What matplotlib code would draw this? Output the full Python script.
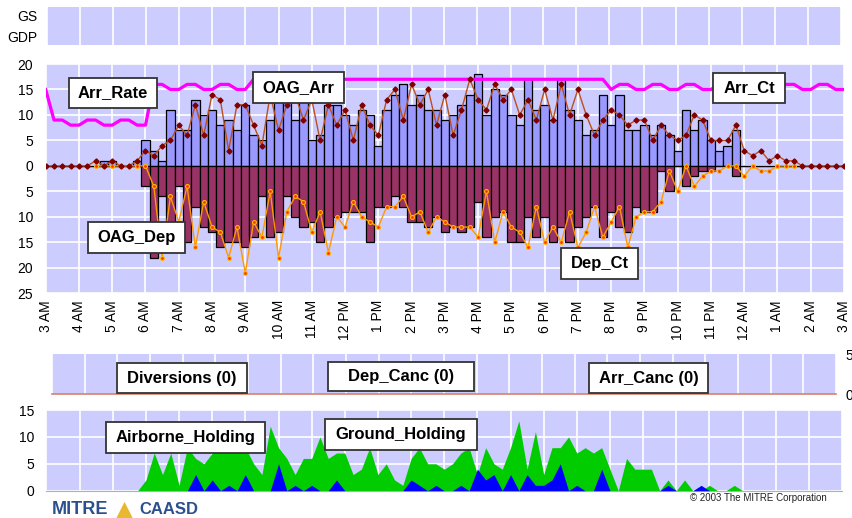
import matplotlib
matplotlib.use('Agg')
import matplotlib.pyplot as plt
import numpy as np
from matplotlib.patches import Rectangle

W, H = 853, 518
FONT = ['Liberation Sans', 'DejaVu Sans']
plt.rcParams['font.family'] = FONT

# ---------------- data (15-minute bins starting 3 AM) ----------------
hour_labels = ['3 AM', '4 AM', '5 AM', '6 AM', '7 AM', '8 AM', '9 AM', '10 AM', '11 AM',
               '12 PM', '1 PM', '2 PM', '3 PM', '4 PM', '5 PM', '6 PM', '7 PM', '8 PM',
               '9 PM', '10 PM', '11 PM', '12 AM', '1 AM', '2 AM', '3 AM']

arr_bars = [0, 0, 0, 0, 0, 0, 0,
            1, 1, 0, 0, 1, 5, 3,
            1, 11, 7, 7, 13, 10, 11,
            8, 9, 7, 12, 6, 5, 9,
            13, 14, 9, 14, 5, 6, 12,
            12, 10, 8, 11, 10, 4, 11,
            14, 16, 12, 14, 11, 11, 9,
            10, 12, 14, 18, 10, 15, 14,
            10, 8, 17, 11, 12, 9, 17,
            11, 9, 6, 7, 14, 8, 14,
            7, 7, 8, 6, 8, 6, 3,
            11, 7, 9, 5, 3, 4, 7,
            0, 0, 0, 0, 0, 0, 0,
            0, 0, 0, 0, 0, 0]

arr_sched = [0, 0, 0, 0, 0, 0, 1,
             0, 1, 0, 0, 1, 3, 2,
             4, 5, 8, 6, 12, 6, 14,
             13, 3, 12, 12, 8, 4, 14,
             7, 12, 14, 9, 13, 5, 12,
             8, 11, 5, 12, 8, 6, 13,
             15, 9, 16, 12, 15, 8, 14,
             6, 11, 17, 13, 11, 16, 13,
             15, 10, 13, 9, 15, 9, 16,
             10, 15, 10, 6, 9, 11, 10,
             8, 9, 9, 5, 8, 6, 5,
             6, 10, 9, 5, 5, 5, 8,
             3, 2, 3, 1, 2, 1, 1,
             0, 0, 0, 0, 0, 0]

dep_bars = [0, 0, 0, 0, 0, 0, 0,
            0, 0, 0, 0, 0, 4, 18,
            6, 11, 4, 15, 8, 12, 13,
            16, 15, 15, 16, 14, 6, 14,
            13, 6, 10, 12, 11, 15, 12,
            10, 9, 9, 9, 15, 8, 8,
            6, 8, 11, 11, 12, 10, 13,
            12, 13, 12, 7, 14, 10, 9,
            15, 15, 10, 14, 10, 15, 12,
            15, 12, 10, 8, 14, 9, 12,
            13, 8, 9, 9, 1, 5, 0,
            4, 2, 1, 1, 0, 0, 2,
            0, 0, 0, 0, 0, 0, 0,
            0, 0, 0, 0, 0, 0]

dep_sched = [None, None, None, None, None, None, 0,
             0, 0, 0, 0, 0, 0, 4,
             18, 6, 11, 4, 16, 7, 12,
             13, 18, 12, 21, 11, 14, 5,
             18, 9, 6, 7, 13, 9, 17,
             10, 12, 7, 10, 11, 12, 8,
             8, 6, 10, 9, 13, 10, 11,
             12, 12, 12, 14, 5, 15, 9,
             12, 13, 16, 8, 15, 12, 15,
             9, 16, 13, 8, 14, 11, 8,
             16, 10, 9, 9, 7, 1, 5,
             0, 4, 2, 1, 1, 0, 0,
             2, 0, 1, 1, 0, 0, 0,
             None, None, None, None, None, None]

arr_rate = [15, 9, 9, 8, 8, 9, 9, 8, 8, 9, 9, 8, 8,
            16, 16, 15, 15, 16, 16, 15, 15, 16, 16, 15, 15,
            17, 17, 17, 17, 17, 17, 17, 17, 17, 17, 17, 17, 17, 17, 17,
            17, 17, 17, 17, 17, 17, 17, 17, 17, 17, 17, 17, 17, 17, 17,
            17, 17, 17, 17, 17, 17, 17, 17, 17, 17, 17, 17, 17,
            15, 16, 16, 15, 15, 16, 16, 15, 15, 16, 16, 15, 15, 16, 16,
            15, 15, 16, 16, 15, 15, 16, 16, 15, 15, 16, 16, 15, 15]

ground_hold = [0, 0, 0, 0, 0, 0, 0, 0, 0, 0, 0,
               0, 2, 7, 3, 7, 1, 8,
               6, 5, 7, 8, 8, 8, 8,
               5, 3, 12, 8, 6, 3, 6,
               6, 10, 6, 7, 7, 3, 4,
               8, 3, 5, 2, 1, 6, 8,
               5, 5, 4, 5, 7, 8, 3,
               8, 5, 4, 8, 13, 4, 11,
               3, 8, 8, 10, 7, 8, 7,
               8, 4, 0, 6, 4, 4, 4,
               0, 2, 0, 2, 0, 0, 1,
               0, 0, 1, 0, 0, 0, 0,
               0, 0, 0, 0, 0, 0, 0, 0, 0]

air_hold = [0, 0, 0, 0, 0, 0, 0, 0, 0, 0, 0, 0, 0, 0, 0, 0, 0,
            0, 3, 0, 2, 0, 1, 0,
            3, 0, 0, 0, 5, 0, 1,
            0, 1, 0, 0, 2, 0, 0,
            0, 0, 0, 0, 0, 0, 2,
            1, 0, 1, 0, 0, 1, 0,
            4, 2, 3, 0, 3, 0, 3,
            1, 1, 2, 5, 0, 1, 0,
            0, 4, 0, 0, 0, 0, 0,
            0, 0, 1, 0, 0, 0, 1,
            0, 0, 0, 0, 0, 0, 0, 0, 0, 0, 0, 0, 0, 0, 0, 0, 0]

main_yticks = [20, 15, 10, 5, 0, -5, -10, -15, -20, -25]
main_ylabels = ['20', '15', '10', '5', '0', '5', '10', '15', '20', '25']
hold_yticks = [0, 5, 10, 15]

t = np.arange(len(arr_bars)) * 0.25   # hours after 3 AM
dep_sched_arr = np.array([np.nan if v is None else v for v in dep_sched], dtype=float)

BG = '#ccccff'

fig = plt.figure(figsize=(W / 100, H / 100), dpi=100)


def add_ax(l, t_, r, b):
    return fig.add_axes([l / W, 1 - b / H, (r - l) / W, (b - t_) / H])


def style_grid(ax, horizontal=True):
    ax.set_facecolor(BG)
    for s in ax.spines.values():
        s.set_visible(False)
    ax.set_axisbelow(True)
    ax.set_xticks(range(0, 25))
    ax.grid(axis='x', color='white', lw=1.2)
    if horizontal:
        ax.grid(axis='y', color='white', lw=1.2)
    ax.tick_params(length=0)


# ---------------- GS / GDP panel ----------------
ax_gs = add_ax(47, 7, 841, 45)
style_grid(ax_gs, horizontal=False)
ax_gs.set_xlim(0, 24)
ax_gs.set_ylim(0, 2)
ax_gs.set_xticklabels([])
ax_gs.set_yticks([1.55, 0.45])
ax_gs.set_yticklabels(['GS', 'GDP'], fontsize=10)
ax_gs.tick_params(axis='y', pad=7)

# ---------------- main panel ----------------
ax = add_ax(45.7, 64, 844, 293.3)
style_grid(ax)
ax.set_xlim(0, 24)
ax.set_ylim(-25, 20)
ax.set_yticks(main_yticks)
ax.set_yticklabels(main_ylabels, fontsize=10)
ax.set_xticklabels(hour_labels, rotation=90, fontsize=10, va='top')
ax.tick_params(axis='y', pad=9)
ax.tick_params(axis='x', pad=5)

ax.bar(t, arr_bars, width=0.25, color='#9999ff', edgecolor='black', lw=0.9, zorder=2)
ax.bar(t, -np.array(dep_bars), width=0.25, color='#993366', edgecolor='black', lw=0.9, zorder=2)
ax.plot(t, arr_rate, color='#ff00ff', lw=2.3, zorder=3, solid_joinstyle='round')
ax.plot(t, -dep_sched_arr, color='#ff9900', lw=1.0, marker='o', ms=2.8,
        mfc='#ff3300', mec='#ffbb00', mew=0.8, zorder=4)
ax.plot(t, arr_sched, color='#b9501e', lw=1.0, marker='D', ms=2.6,
        mfc='#800000', mec='#800000', zorder=5)

# ---------------- middle panel (diversions / cancellations) ----------------
ax_m = add_ax(52, 354, 836, 394)
style_grid(ax_m, horizontal=False)
ax_m.set_xlim(0, 24)
ax_m.set_ylim(0, 5)
ax_m.set_xticklabels([])
ax_m.spines['bottom'].set_visible(True)
ax_m.spines['bottom'].set_color('#d9826a')
ax_m.spines['bottom'].set_linewidth(1.2)
ax_m.yaxis.tick_right()
ax_m.set_yticks([0, 5])
ax_m.set_yticklabels(['0', '5'], fontsize=10)
ax_m.tick_params(axis='y', pad=7)

# ---------------- holding panel ----------------
ax_h = add_ax(46.5, 410, 842, 490.7)
style_grid(ax_h)
ax_h.set_xlim(0, 24)
ax_h.set_ylim(0, 15)
ax_h.set_yticks(hold_yticks)
ax_h.set_yticklabels([str(v) for v in hold_yticks], fontsize=10)
ax_h.set_xticklabels([])
ax_h.tick_params(axis='y', pad=9)
ax_h.fill_between(t, 0, ground_hold, color='#00cc00', lw=0, zorder=2)
ax_h.fill_between(t, 0, air_hold, color='#0000ff', lw=0, zorder=3)
ax_h.spines['bottom'].set_visible(True)
ax_h.spines['bottom'].set_color('#9fb3cc')


# ---------------- label boxes ----------------
def label_box(x0, y0, x1, y1, text, size=12):
    fig.patches.append(Rectangle((x0 / W, 1 - y1 / H), (x1 - x0) / W, (y1 - y0) / H,
                                 transform=fig.transFigure, facecolor='white',
                                 edgecolor='#333333', lw=1.3, zorder=10))
    fig.text((x0 + x1) / 2 / W, 1 - (y0 + y1) / 2 / H, text, ha='center', va='center',
             fontsize=size, fontweight='bold', color='black', zorder=11)


label_box(69, 78, 157, 108, 'Arr_Rate')
label_box(253, 72, 344, 103, 'OAG_Arr')
label_box(713, 73, 785, 103, 'Arr_Ct')
label_box(88, 222, 185, 253, 'OAG_Dep')
label_box(561, 248, 638, 279, 'Dep_Ct')
label_box(117, 363, 247, 393, 'Diversions (0)')
label_box(328, 362, 474, 391, 'Dep_Canc (0)')
label_box(589, 363, 708, 393, 'Arr_Canc (0)')
label_box(106, 422, 265, 453, 'Airborne_Holding')
label_box(325, 419, 477, 450, 'Ground_Holding')

# ---------------- footer ----------------
fig.text(827 / W, 1 - 498 / H, '\u00a9 2003 The MITRE Corporation', ha='right', va='center',
         fontsize=7, color='#222222')
fig.text(52 / W, 1 - 510 / H, 'MITRE', ha='left', va='center', fontsize=13,
         fontweight='bold', color='#2b4f8f')
fig.text(125 / W, 1 - 509 / H, '\u25b2', ha='center', va='center', fontsize=16,
         color='#e8b830', family=['DejaVu Sans'])
fig.text(139 / W, 1 - 510 / H, 'CAASD', ha='left', va='center', fontsize=12,
         fontweight='bold', color='#2b4f8f')

fig.savefig('out.png', dpi=100)
